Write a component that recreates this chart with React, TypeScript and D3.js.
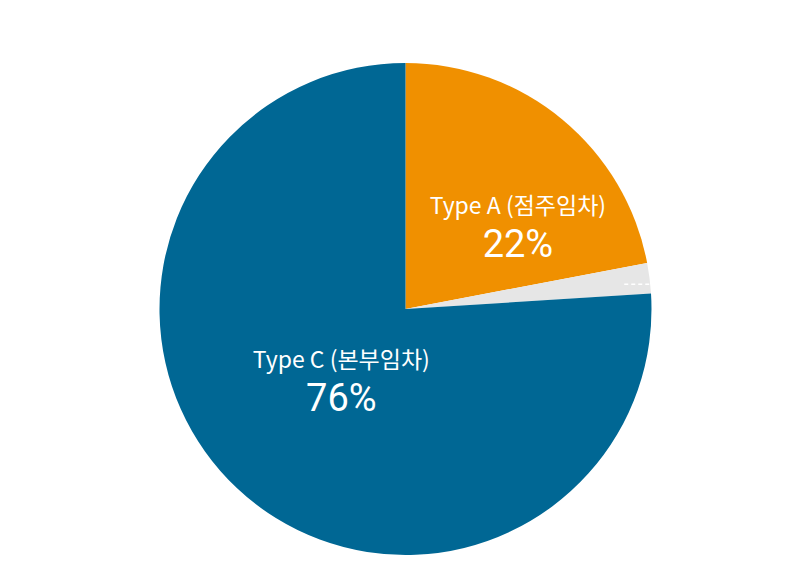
import React from "react";
import * as d3 from "d3";

const categories = ["Type A", "Type B", "Type C"];
const subLabels = ["(점주임차)", "", "(본부임차)"];
const values = [22, 2, 76];
const colors = ["#F09000", "#E6E6E6", "#006794"];

const W = 800;
const H = 578;
const CX = 405.5;
const CY = 309;
const R = 246;

export default function App() {
  const pie = d3.pie<number>().sort(null).value((d) => d)(values);
  const arc = d3.arc<d3.PieArcDatum<number>>().innerRadius(0).outerRadius(R);
  const labelArc = d3.arc<d3.PieArcDatum<number>>().innerRadius(0).outerRadius(R);
  const offsets: [number, number][] = [
    [34, 0],
    [0, 0],
    [20, -31],
  ];
  const font = "'Noto Sans CJK KR', 'Noto Sans', sans-serif";
  const numFont = "Roboto, 'Noto Sans', sans-serif";
  const gray = pie[1];
  const gMid = gray.startAngle + (gray.endAngle - gray.startAngle) * 0.7;
  const ly = -R * Math.cos(gMid);
  return (
    <svg width={W} height={H} style={{ position: "absolute", left: 0, top: 0 }}>
      <g transform={`translate(${CX},${CY})`}>
        {pie.map((p, i) => (
          <path key={i} d={arc(p) || ""} fill={colors[i]} />
        ))}
        <line
          x1={R * Math.sin(gMid) - 26}
          x2={R * Math.sin(gMid) - 1}
          y1={ly}
          y2={ly}
          stroke="#fff"
          strokeWidth={1.5}
          strokeDasharray="4 3"
        />
        {pie.map((p, i) => {
          if (!subLabels[i]) return null;
          const [x, y] = labelArc.centroid(p);
          const tx = x + offsets[i][0];
          const ty = y + offsets[i][1];
          return (
            <g key={"l" + i} fill="#fff" textAnchor="middle">
              <text x={tx} y={ty} fontSize={23} fontFamily={font}>
                {categories[i] + " " + subLabels[i]}
              </text>
              <text x={tx} y={ty + 43} fontSize={38} fontFamily={numFont}>
                {values[i] + "%"}
              </text>
            </g>
          );
        })}
      </g>
    </svg>
  );
}
